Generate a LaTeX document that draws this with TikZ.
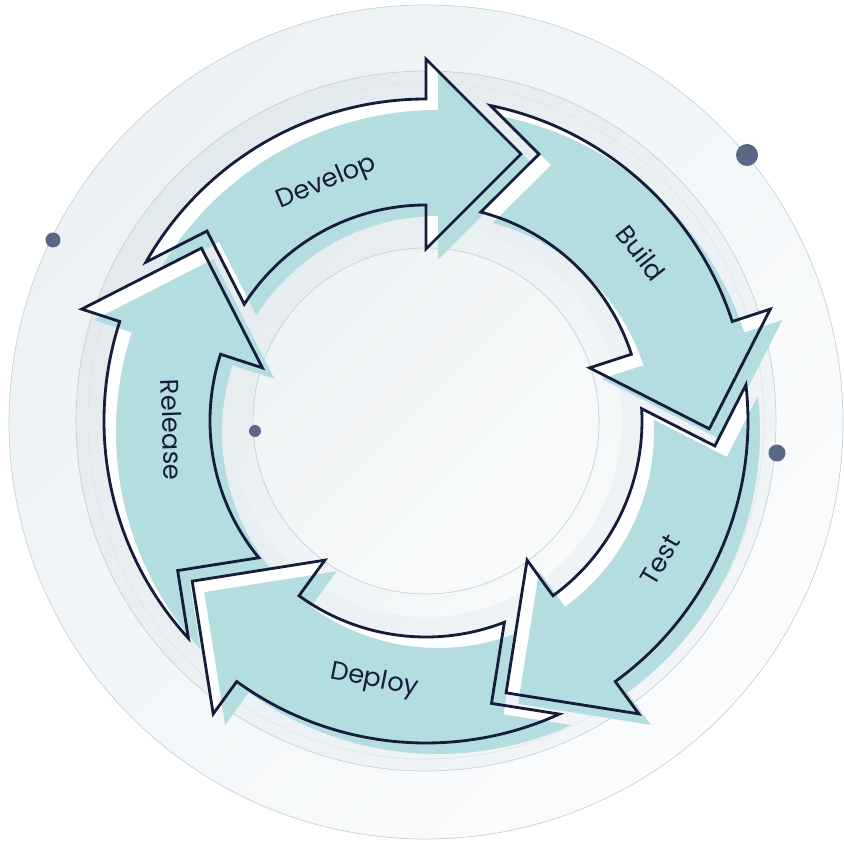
\documentclass[tikz,border=0pt]{standalone}
\usepackage{fontspec}
\setmainfont{Poppins}
\definecolor{tealfill}{HTML}{B3DDDE}
\definecolor{navy}{HTML}{161D3B}
\definecolor{dotc}{HTML}{5A6886}
\definecolor{ringline}{HTML}{C6D1DB}
\definecolor{bgA}{HTML}{EBF1F4}
\definecolor{bgB}{HTML}{FBFCFD}
\definecolor{midA}{HTML}{E3EAEE}
\definecolor{midB}{HTML}{F2F5F7}
\definecolor{inA}{HTML}{E6ECEF}
\definecolor{inB}{HTML}{F8FAFB}
\newcommand\cyclearrow[2]{%
  \path[#2, rotate=#1] (150.45:322) arc[start angle=150.45, end angle=90, radius=322]
    -- (0,362) -- (95,267) -- (0,172) -- (0,216)
    arc[start angle=90, end angle=147.28, radius=216]
    -- (139.06:289.9) -- cycle;}
\tikzset{
  outlinestyle/.style={draw=navy, line width=2.4pt, line join=miter},
  whitestyle/.style={fill=white},
  tealstyle/.style={fill=tealfill},
  labelstyle/.style={text=navy, font=\fontsize{22}{26}\selectfont, inner sep=0pt},
  dotstyle/.style={fill=dotc}
}
\begin{document}
\begin{tikzpicture}[x=0.03cm,y=0.03cm]
\useasboundingbox (-426,-422) rectangle (418,421);
\fill[white] (-426,-422) rectangle (418,421);
% background discs
\shade[top color=bgA, bottom color=bgB, shading angle=45] (0,-1) circle[radius=417];
\draw[ringline, line width=0.6pt] (0,-1) circle[radius=417];
\shade[top color=midA, bottom color=midB, shading angle=45] (0,0) circle[radius=350];
\draw[ringline, line width=0.6pt] (0,0) circle[radius=350];
\draw[ringline!60, line width=0.5pt] (0,0) circle[radius=338];
\shade[top color=inA, bottom color=inB, shading angle=45] (0,0) circle[radius=196];
\fill[white, opacity=0.35] (0,0) circle[radius=173];
\draw[ringline, line width=0.6pt] (0,0) circle[radius=173];
% arrows: white base, shifted teal
\foreach \r in {0,-72,-144,-216,-288}{
  \cyclearrow{\r}{whitestyle}
  \begin{scope}[shift={(12,-11)}]
    \cyclearrow{\r}{tealstyle}
  \end{scope}
}
% outlines
\foreach \r in {0,-72,-144,-216,-288}{
  \cyclearrow{\r}{outlinestyle}
}
% labels
\node[labelstyle, rotate=22.6] (develop) at (112.6:258) {Develop};
\node[labelstyle, rotate=-52] (build) at (38:273) {Build};
\node[labelstyle, rotate=59.3] (test) at (-30.7:272) {Test};
\node[labelstyle, rotate=-11.3] (deploy) at (-101.3:265) {Deploy};
\node[labelstyle, rotate=-88] (release) at (182:254) {Release};
% dots
\fill[dotstyle] (321,266) circle[radius=11];
\fill[dotstyle] (-373,181) circle[radius=7.5];
\fill[dotstyle] (351,-32) circle[radius=8.5];
\fill[dotstyle] (-171,-10) circle[radius=6];
\end{tikzpicture}
\end{document}
